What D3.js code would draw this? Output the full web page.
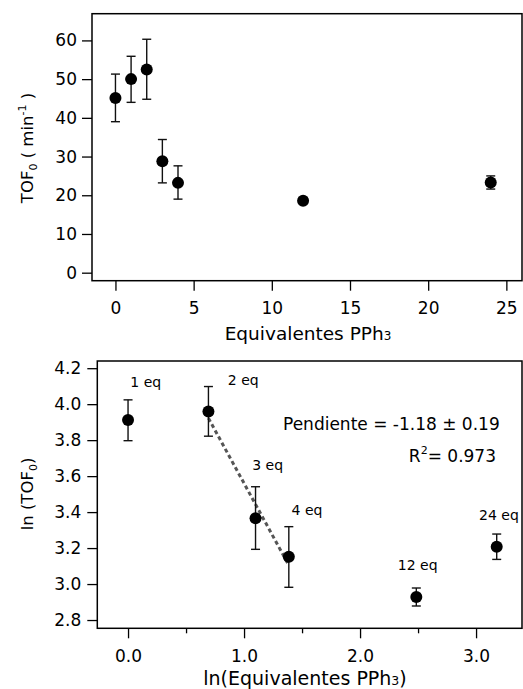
<!DOCTYPE html>
<html>
<head>
<meta charset="utf-8">
<script src="https://cdn.jsdelivr.net/npm/d3@7"></script>
<style>
  body { margin: 0; background: #fff; }
  svg { display: block; font-family: "DejaVu Sans", sans-serif; }
  .frame { fill: none; stroke: #000; stroke-width: 1.5; }
  .axis path { display: none; }
  .axis line { stroke: #000; stroke-width: 1.3; }
  .axis text { font-size: 16px; fill: #000; font-family: "DejaVu Sans", sans-serif; }
  .err { stroke: #111; stroke-width: 1.4; }
</style>
</head>
<body>
<svg id="chart" width="523" height="689"></svg>
<script>
// top panel: TOF0 vs equivalents
const eqX = [0, 1, 2, 3, 4, 12, 24];
const tofY = [45.1, 50.0, 52.5, 28.8, 23.2, 18.6, 23.3];
const tofHi = [51.3, 55.9, 60.3, 34.4, 27.6, 19.3, 25.0];
const tofLo = [39.0, 44.0, 44.8, 23.2, 19.0, 17.9, 21.6];
const topXTicks = [0, 5, 10, 15, 20, 25];
const topYTicks = [0, 10, 20, 30, 40, 50, 60];

// bottom panel: ln(TOF0) vs ln(eq)
const lnX = [0, 0.693, 1.099, 1.386, 2.485, 3.178];
const lnY = [3.912, 3.959, 3.366, 3.152, 2.928, 3.207];
const lnHi = [4.024, 4.098, 3.541, 3.319, 2.978, 3.278];
const lnLo = [3.797, 3.822, 3.193, 2.982, 2.878, 3.137];
const eqLabels = ['1 eq', '2 eq', '3 eq', '4 eq', '12 eq', '24 eq'];
const labelX = [0.02, 0.86, 1.07, 1.41, 2.325, 3.026];
const labelY = [4.097, 4.107, 3.633, 3.385, 3.08, 3.356];
const botXMajor = [0, 1, 2, 3];
const botXMinor = [0.5, 1.5, 2.5];
const botYTicks = [2.8, 3.0, 3.2, 3.4, 3.6, 3.8, 4.0, 4.2];
const fitX = [0.693, 1.386];
const slope = -1.18, intercept = 4.74;

const svg = d3.select('#chart');

// ---------- top panel ----------
const x1 = d3.scaleLinear().domain([-1.5, 26]).range([92, 522]);
const y1 = d3.scaleLinear().domain([-2.07, 66.9]).range([280.7, 13.7]);

svg.append('rect').attr('class', 'frame')
  .attr('x', x1.range()[0]).attr('y', y1.range()[1])
  .attr('width', x1.range()[1] - x1.range()[0])
  .attr('height', y1.range()[0] - y1.range()[1]);

svg.append('g').attr('class', 'axis')
  .attr('transform', `translate(${x1.range()[0]},0)`)
  .call(d3.axisLeft(y1).tickValues(topYTicks).tickSize(10).tickPadding(5).tickFormat(d3.format('d')))
  .selectAll('text').style('font-size', '17px');

svg.append('g').attr('class', 'axis')
  .attr('transform', `translate(0,${y1.range()[0]})`)
  .call(d3.axisBottom(x1).tickValues(topXTicks).tickSize(10).tickPadding(11).tickFormat(d3.format('d')))
  .selectAll('text').style('font-size', '17px');

function drawErr(g, xs, ys, his, los, xs_, ys_) {
  const grp = g.append('g');
  xs.forEach((xv, i) => {
    const cx = xs_(xv);
    grp.append('line').attr('class', 'err')
      .attr('x1', cx).attr('x2', cx).attr('y1', ys_(his[i])).attr('y2', ys_(los[i]));
    [his[i], los[i]].forEach(v => {
      grp.append('line').attr('class', 'err')
        .attr('x1', cx - 4.5).attr('x2', cx + 4.5).attr('y1', ys_(v)).attr('y2', ys_(v));
    });
  });
  grp.selectAll('circle').data(xs).enter().append('circle')
    .attr('cx', d => xs_(d)).attr('cy', (d, i) => ys_(ys[i])).attr('r', 6).attr('fill', '#000');
}

drawErr(svg, eqX, tofY, tofHi, tofLo, x1, y1);

// axis titles top
const t1 = svg.append('text').attr('x', 308).attr('y', 340).attr('text-anchor', 'middle')
  .style('font-size', '18.5px');
t1.append('tspan').text('Equivalentes PPh');
t1.append('tspan').style('font-size', '12px').text('3');

const yt1 = svg.append('text').attr('transform', 'translate(33,148) rotate(-90)')
  .attr('text-anchor', 'middle').style('font-size', '16.5px');
yt1.append('tspan').text('TOF');
yt1.append('tspan').attr('dy', 4).style('font-size', '11px').text('0');
yt1.append('tspan').attr('dy', -4).text(' ( min');
yt1.append('tspan').attr('dy', -7).style('font-size', '11px').text('-1');
yt1.append('tspan').attr('dy', 7).text(' )');

// ---------- bottom panel ----------
const x2 = d3.scaleLinear().domain([-0.265, 3.396]).range([97.3, 522]);
const y2 = d3.scaleLinear().domain([2.754, 4.24]).range([628.3, 361]);

svg.append('rect').attr('class', 'frame')
  .attr('x', x2.range()[0]).attr('y', y2.range()[1])
  .attr('width', x2.range()[1] - x2.range()[0])
  .attr('height', y2.range()[0] - y2.range()[1]);

svg.append('g').attr('class', 'axis')
  .attr('transform', `translate(${x2.range()[0]},0)`)
  .call(d3.axisLeft(y2).tickValues(botYTicks).tickSize(10).tickPadding(6).tickFormat(d3.format('.1f')))
  .selectAll('text').style('font-size', '17px');

svg.append('g').attr('class', 'axis')
  .attr('transform', `translate(0,${y2.range()[0]})`)
  .call(d3.axisBottom(x2).tickValues(botXMajor).tickSize(10).tickPadding(12).tickFormat(d3.format('.1f')))
  .selectAll('text').style('font-size', '17px');

svg.append('g').attr('class', 'axis')
  .attr('transform', `translate(0,${y2.range()[0]})`)
  .call(d3.axisBottom(x2).tickValues(botXMinor).tickSize(5).tickFormat(''));

// fit line
svg.append('line')
  .attr('x1', x2(fitX[0])).attr('y1', y2(intercept + slope * fitX[0]))
  .attr('x2', x2(fitX[1])).attr('y2', y2(intercept + slope * fitX[1]))
  .attr('stroke', '#555').attr('stroke-width', 3).attr('stroke-dasharray', '4,3');

drawErr(svg, lnX, lnY, lnHi, lnLo, x2, y2);

svg.selectAll('.eqlab').data(eqLabels).enter().append('text')
  .attr('class', 'eqlab')
  .attr('x', (d, i) => x2(labelX[i])).attr('y', (d, i) => y2(labelY[i]))
  .style('font-size', '14px').text(d => d);

svg.append('text').attr('x', 283).attr('y', 430).style('font-size', '17px')
  .text('Pendiente = -1.18 ± 0.19');
const r2 = svg.append('text').attr('x', 496).attr('y', 462).attr('text-anchor', 'end')
  .style('font-size', '17px');
r2.append('tspan').text('R');
r2.append('tspan').attr('dy', -8).style('font-size', '11px').text('2');
r2.append('tspan').attr('dy', 8).text('= 0.973');

const t2 = svg.append('text').attr('x', 305).attr('y', 685).attr('text-anchor', 'middle')
  .style('font-size', '19px');
t2.append('tspan').text('ln(Equivalentes PPh');
t2.append('tspan').style('font-size', '12.5px').text('3');
t2.append('tspan').text(')');

const yt2 = svg.append('text').attr('transform', 'translate(33,494) rotate(-90)')
  .attr('text-anchor', 'middle').style('font-size', '16.5px');
yt2.append('tspan').text('ln (TOF');
yt2.append('tspan').attr('dy', 4).style('font-size', '11px').text('0');
yt2.append('tspan').attr('dy', -4).text(')');
</script>
</body>
</html>
